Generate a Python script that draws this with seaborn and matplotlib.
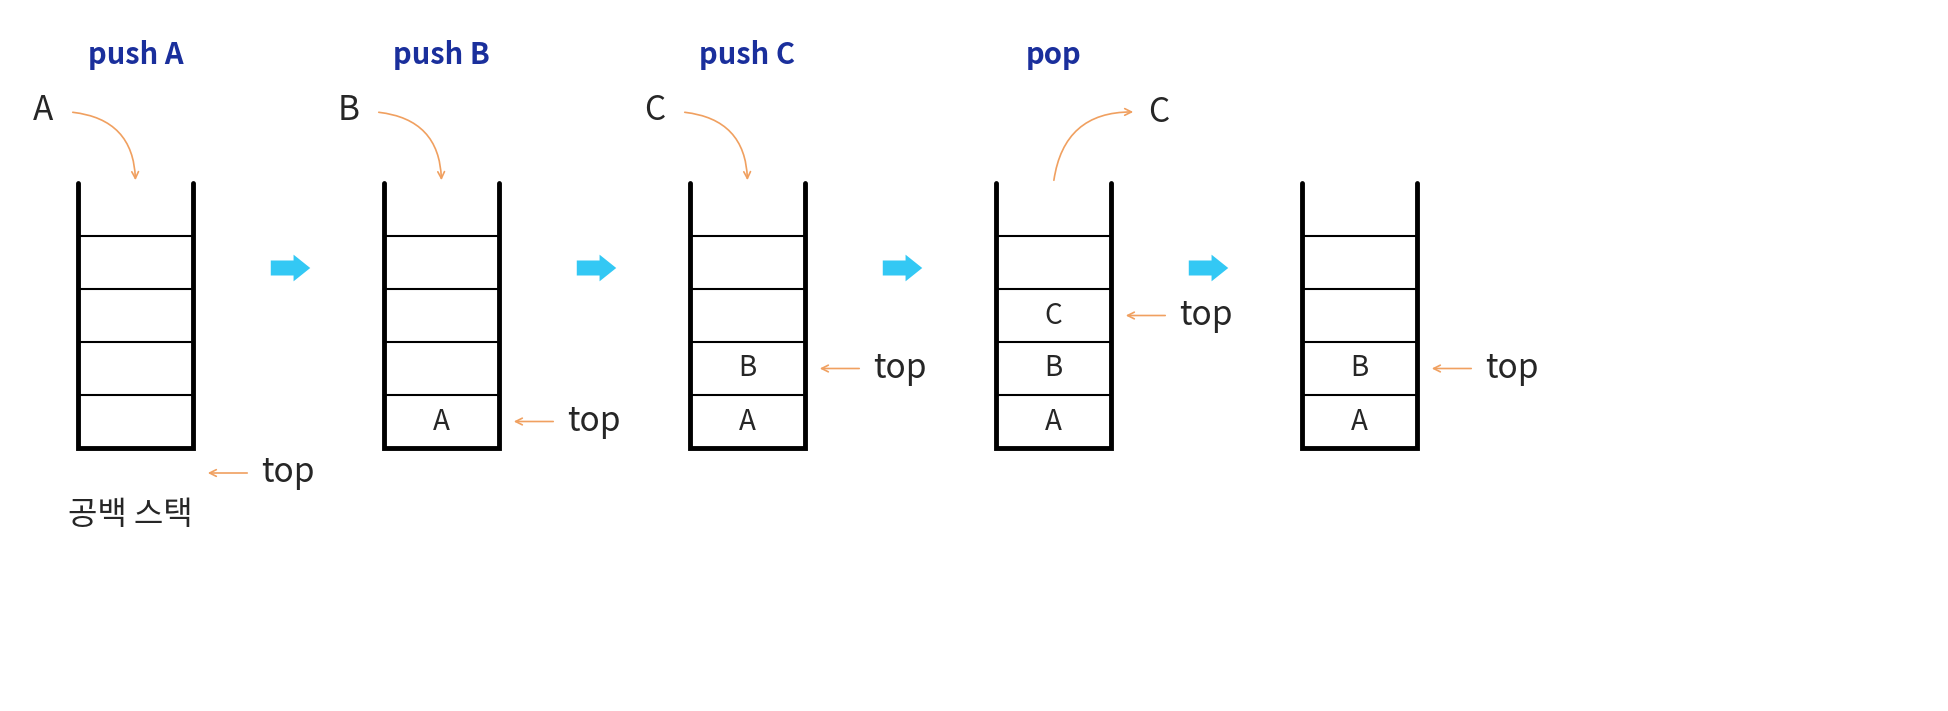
import matplotlib
matplotlib.use("Agg")
import matplotlib.pyplot as plt
import seaborn as sns

sns.set_theme(style="white")
plt.rcParams['font.family'] = ['Noto Sans CJK KR', 'DejaVu Sans']

# data
titles = ['push A', 'push B', 'push C', 'pop', '']
stacks = [[], ['A'], ['A', 'B'], ['A', 'B', 'C'], ['A', 'B']]
moved = ['A', 'B', 'C', 'C', '']
empty_label = '공백 스택'

W, H = 1949, 711
fig = plt.figure(figsize=(W / 100, H / 100), dpi=100)
ax = fig.add_axes([0, 0, 1, 1])
ax.set_xlim(0, W)
ax.set_ylim(H, 0)
ax.axis('off')

navy = '#1a2f9c'
orange = '#f0a060'
cyan = '#33c8f4'
x0, step, sw = 78, 306, 115
top_y, cell = 183, 53
bottom = top_y + 5 * cell

for i, (title, items) in enumerate(zip(titles, stacks)):
    left = x0 + i * step
    right = left + sw
    cx = left + sw / 2
    ax.plot([left, left, right, right], [top_y, bottom, bottom, top_y], color='black', lw=3.5,
            solid_joinstyle='miter')
    for k in range(1, 5):
        y = top_y + k * cell
        ax.plot([left, right], [y, y], color='black', lw=1.5)
    for k, it in enumerate(items):
        ax.text(cx, bottom - (k + 0.5) * cell, it, ha='center', va='center', fontsize=20)
    if title:
        ax.text(cx, 55, title, ha='center', va='center', fontsize=21, fontweight='bold', color=navy)
    # top pointer
    if items:
        ty = bottom - (len(items) - 0.5) * cell
    else:
        ty = bottom + 25
    ax.annotate('', xy=(right + 12, ty), xytext=(right + 57, ty),
                arrowprops=dict(arrowstyle='->', color=orange, lw=1.2))
    ax.text(right + 68, ty, 'top', ha='left', va='center', fontsize=24)
    # element arrows
    if title.startswith('push'):
        ax.text(left - 35, 110, moved[i], ha='center', va='center', fontsize=24)
        ax.annotate('', xy=(cx, top_y), xytext=(left - 8, 112),
                    arrowprops=dict(arrowstyle='->', color=orange, lw=1.2,
                                    connectionstyle='arc3,rad=-0.45'))
    elif title == 'pop':
        ax.text(right + 48, 112, moved[i], ha='center', va='center', fontsize=24)
        ax.annotate('', xy=(right + 25, 112), xytext=(cx, top_y),
                    arrowprops=dict(arrowstyle='->', color=orange, lw=1.2,
                                    connectionstyle='arc3,rad=-0.45'))
    if i < 4:
        ax.annotate('', xy=(right + 120, 268), xytext=(right + 75, 268),
                    arrowprops=dict(arrowstyle='simple,head_width=1.6,head_length=1.0,tail_width=0.9',
                                    color=cyan, lw=0))

ax.text(130, 515, empty_label, ha='center', va='center', fontsize=23)
fig.savefig('out.png', dpi=100, facecolor='white')
